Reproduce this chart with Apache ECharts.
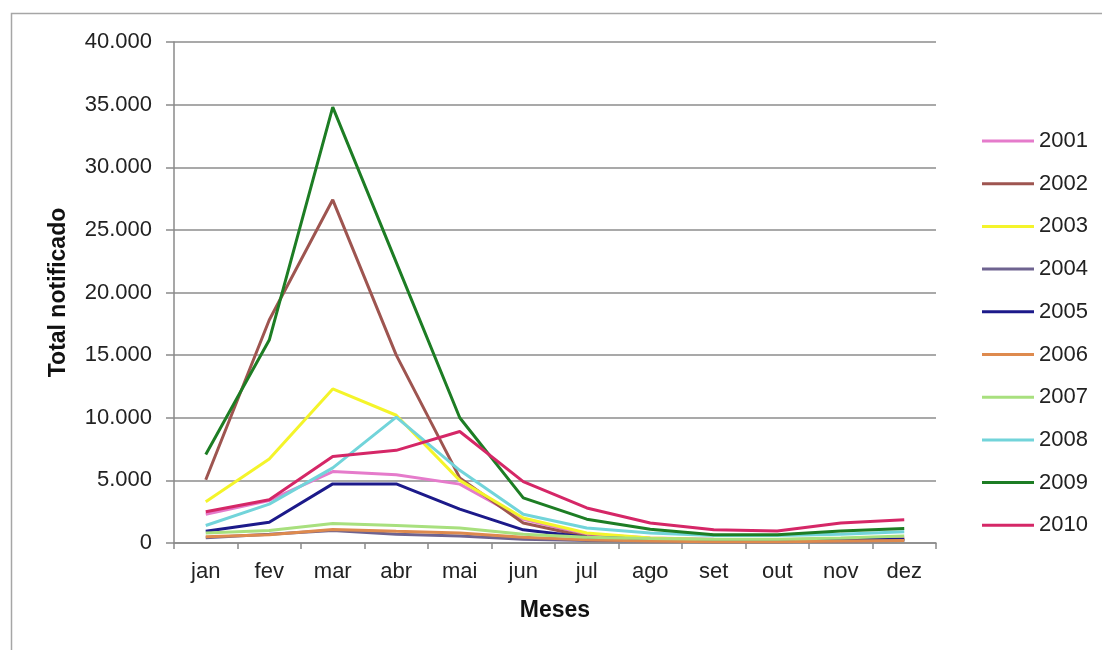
<!DOCTYPE html>
<html>
<head>
<meta charset="utf-8">
<title>Total notificado por mês</title>
<script src="https://cdn.jsdelivr.net/npm/echarts@6/dist/echarts.min.js"></script>
<style>
  html, body { margin: 0; padding: 0; background: #fff; }
  #chart { width: 1102px; height: 650px; }
</style>
</head>
<body>
<div id="chart"></div>
<script>
// meses
var months = ['jan', 'fev', 'mar', 'abr', 'mai', 'jun', 'jul', 'ago', 'set', 'out', 'nov', 'dez']

// valores, um array por ano
var y2001 = [2300, 3400, 5700, 5450, 4700, 1900, 700, 400, 300, 250, 350, 400]
var y2002 = [5050, 17800, 27400, 15000, 5200, 1600, 500, 250, 150, 150, 200, 250]
var y2003 = [3300, 6700, 12300, 10200, 5000, 2000, 800, 400, 250, 200, 250, 300]
var y2004 = [420, 700, 1000, 700, 550, 300, 200, 150, 100, 100, 150, 200]
var y2005 = [930, 1650, 4720, 4720, 2700, 1050, 450, 300, 200, 200, 250, 300]
var y2006 = [490, 650, 1070, 930, 800, 450, 250, 150, 100, 100, 150, 200]
var y2007 = [800, 1000, 1550, 1400, 1200, 700, 450, 350, 300, 300, 400, 550]
var y2008 = [1400, 3100, 6000, 10050, 5800, 2300, 1200, 800, 600, 600, 700, 900]
var y2009 = [7060, 16200, 34800, 22400, 10000, 3600, 1900, 1100, 650, 650, 950, 1150]
var y2010 = [2500, 3450, 6900, 7400, 8900, 4900, 2800, 1600, 1050, 950, 1600, 1850]

var years = ['2001', '2002', '2003', '2004', '2005', '2006', '2007', '2008', '2009', '2010']
var yearData = [y2001, y2002, y2003, y2004, y2005, y2006, y2007, y2008, y2009, y2010]
var colors = ['#E57BCB', '#9E5550', '#F4F42A', '#6E6390', '#1C1A8A', '#DE8A4E', '#A8E07E', '#72D4DA', '#1D7D24', '#D52767']

var yTicks = { min: 0, max: 40000, interval: 5000 }

var chart = echarts.init(document.getElementById('chart'))

function fmt(v) {
  return String(v).replace(/\B(?=(\d{3})+(?!\d))/g, '.')
}

var font = 'Liberation Sans, Arial, sans-serif'

chart.setOption({
  animation: false,
  color: colors,
  textStyle: { fontFamily: font },
  graphic: [{
    type: 'rect',
    silent: true,
    shape: { x: 11.5, y: 13.5, width: 1200, height: 1000 },
    style: { fill: 'none', stroke: '#a6a6a6', lineWidth: 1.5 }
  }],
  grid: {
    left: 174,
    right: 166,
    top: 42,
    bottom: 107
  },
  legend: {
    orient: 'vertical',
    left: 977,
    top: 125,
    itemWidth: 52,
    itemHeight: 22,
    itemGap: 20.7,
    icon: 'path://M0,0 L52,0 L52,3 L0,3 Z',
    textStyle: { fontSize: 22, lineHeight: 22, color: '#222', fontFamily: font },
    data: years
  },
  xAxis: {
    type: 'category',
    data: months,
    boundaryGap: true,
    name: 'Meses',
    nameLocation: 'middle',
    nameGap: 56,
    nameTextStyle: { fontSize: 23, fontWeight: 'bold', color: '#111', fontFamily: font },
    axisLine: { lineStyle: { color: '#8a8a8a', width: 1.5 } },
    axisTick: { show: true, alignWithLabel: false, length: 6, lineStyle: { color: '#8a8a8a', width: 1.5 } },
    axisLabel: { fontSize: 22, color: '#222', margin: 18, interval: 0 }
  },
  yAxis: {
    type: 'value',
    min: yTicks.min,
    max: yTicks.max,
    interval: yTicks.interval,
    name: 'Total notificado',
    nameLocation: 'middle',
    nameGap: 104,
    nameRotate: 90,
    nameTextStyle: { fontSize: 23, fontWeight: 'bold', color: '#111', fontFamily: font },
    axisLine: { show: true, lineStyle: { color: '#8a8a8a', width: 1.5 } },
    axisTick: { show: true, length: 8, lineStyle: { color: '#8a8a8a', width: 1.5 } },
    splitLine: { lineStyle: { color: '#8c8c8c', width: 1.5 } },
    axisLabel: { fontSize: 22, color: '#222', margin: 22, formatter: fmt }
  },
  series: years.map(function (name, i) {
    return {
      name: name,
      type: 'line',
      data: yearData[i],
      symbol: 'none',
      smooth: false,
      lineStyle: { width: 3, color: colors[i] },
      itemStyle: { color: colors[i] }
    }
  })
})
</script>
</body>
</html>
